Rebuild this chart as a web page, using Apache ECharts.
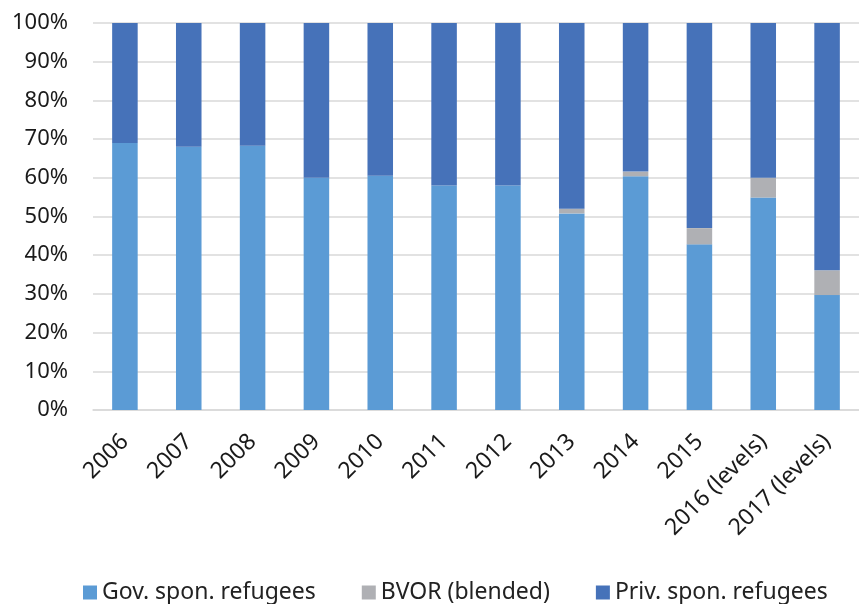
<!DOCTYPE html>
<html>
<head>
<meta charset="utf-8">
<script src="https://cdn.jsdelivr.net/npm/echarts@6/dist/echarts.min.js"></script>
<style>
  html, body { margin: 0; padding: 0; background: #fff; }
  #chart { width: 859px; height: 604px; }
</style>
</head>
<body>
<div id="chart"></div>
<script>
// categories along the x axis
const years = ["2006", "2007", "2008", "2009", "2010", "2011", "2012",
  "2013", "2014", "2015", "2016 (levels)", "2017 (levels)"];

// shares in percent
const govSponsored = [69.0, 68.0, 68.3, 60.0, 60.5, 58.0, 58.0, 50.8, 60.4, 42.8, 54.9, 29.7];
const bvorBlended  = [0, 0, 0, 0, 0, 0, 0, 1.2, 1.2, 4.2, 5.1, 6.4];
const privSponsored = govSponsored.map((g, i) => +(100 - g - bvorBlended[i]).toFixed(1));

const yTicks = [0, 10, 20, 30, 40, 50, 60, 70, 80, 90, 100];

const FONT = "Noto Sans";

const chart = echarts.init(document.getElementById("chart"));

// =========================
// series
// =========================

function barSeries(name, data, color) {
  return {
    name: name,
    type: "bar",
    stack: "share",
    barWidth: "40%",
    data: data,
    itemStyle: { color: color },
    emphasis: { disabled: true }
  };
}

chart.setOption({
  animation: false,
  textStyle: { fontFamily: FONT },
  grid: { left: 93, top: 23, width: 779, bottom: 194 },
  legend: {
    bottom: -5,
    left: 78,
    itemWidth: 14,
    itemHeight: 14,
    itemGap: 46,
    icon: "rect",
    textStyle: { fontFamily: FONT, fontSize: 23, color: "#222" },
    data: ["Gov. spon. refugees", "BVOR (blended)", "Priv. spon. refugees"]
  },
  xAxis: {
    type: "category",
    data: years,
    axisTick: { show: false },
    axisLine: { lineStyle: { color: "#d9d9d9", width: 1.5 } },
    axisLabel: {
      rotate: 45,
      margin: 28,
      fontSize: 23,
      color: "#1a1a1a",
      fontFamily: FONT
    }
  },
  yAxis: {
    type: "value",
    min: yTicks[0],
    max: yTicks[yTicks.length - 1],
    interval: 10,
    axisLine: { show: false },
    axisTick: { show: false },
    splitLine: { lineStyle: { color: "#d9d9d9", width: 1.5 } },
    axisLabel: {
      margin: 25,
      fontSize: 22,
      color: "#1a1a1a",
      fontFamily: FONT,
      formatter: "{value}%"
    }
  },
  series: [
    barSeries("Gov. spon. refugees", govSponsored, "#5b9bd5"),
    barSeries("BVOR (blended)", bvorBlended, "#afb0b4"),
    barSeries("Priv. spon. refugees", privSponsored, "#4672b9")
  ]
});
</script>
</body>
</html>
